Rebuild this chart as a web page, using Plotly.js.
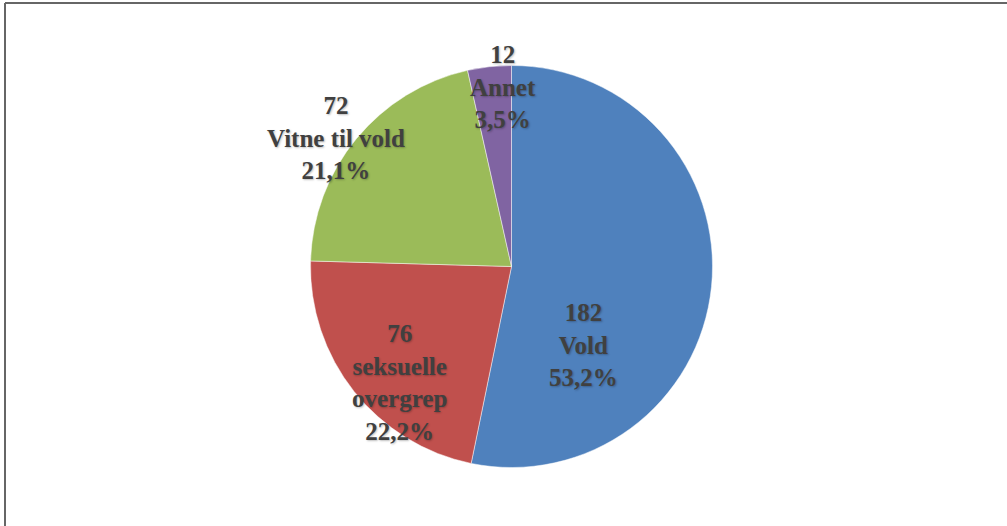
<!DOCTYPE html>
<html>
<head>
<meta charset="utf-8">
<script src="https://cdn.plot.ly/plotly-3.0.1.min.js"></script>
<style>
  html, body { margin: 0; padding: 0; background: #ffffff; }
  #chart { width: 1007px; height: 526px; }
</style>
</head>
<body>
<div id="chart"></div>
<script>
// ---- data ----
const categories = ["Vold", "seksuelle<br>overgrep", "Vitne til vold", "Annet"];
const counts = [182, 76, 72, 12];
const colors = ["#4F81BD", "#C0504D", "#9BBB59", "#8064A2"];

// ---- layout config (pixel positions of the label blocks) ----
const W = 1007, H = 526;
const pieCenter = { x: 511.5, y: 266.5 }, pieRadius = 201;
const labelPx = [[583, 345], [399, 382.5], [336, 138], [503, 87.5]];

const total = counts.reduce((a, b) => a + b, 0);
const pctText = v => (Math.round(v / total * 1000) / 10).toFixed(1).replace('.', ',') + '%';

const trace = {
  type: 'pie',
  values: counts,
  labels: categories,
  sort: false,
  direction: 'clockwise',
  rotation: 0,
  textinfo: 'none',
  hoverinfo: 'label+value+percent',
  marker: { colors: colors, line: { color: 'rgba(255,255,255,0.6)', width: 0.8 } },
  domain: {
    x: [(pieCenter.x - pieRadius) / W, (pieCenter.x + pieRadius) / W],
    y: [1 - (pieCenter.y + pieRadius) / H, 1 - (pieCenter.y - pieRadius) / H]
  },
  showlegend: false
};

const annotations = counts.map((v, i) => ({
  xref: 'paper', yref: 'paper',
  x: labelPx[i][0] / W,
  y: 1 - labelPx[i][1] / H,
  xanchor: 'center', yanchor: 'middle',
  showarrow: false,
  align: 'center',
  text: v + '<br>' + categories[i] + '<br>' + pctText(v),
  font: { family: 'Liberation Serif, serif', size: 25, color: '#404040', weight: 'bold',
          shadow: '1px 1px 2px rgba(0,0,0,0.25)' }
}));

const border = { color: '#666666', width: 2 };
const shapes = [
  { type: 'line', xref: 'paper', yref: 'paper', x0: 5 / W, x1: 5 / W, y0: -0.05, y1: 1 - 3 / H, line: border },
  { type: 'line', xref: 'paper', yref: 'paper', x0: 5 / W, x1: 1.05, y0: 1 - 3 / H, y1: 1 - 3 / H, line: border }
];

const layout = {
  width: W, height: H,
  margin: { l: 0, r: 0, t: 0, b: 0 },
  paper_bgcolor: '#ffffff',
  plot_bgcolor: '#ffffff',
  showlegend: false,
  annotations: annotations,
  shapes: shapes
};

Plotly.newPlot('chart', [trace], layout, { displayModeBar: false, staticPlot: true });
</script>
</body>
</html>
